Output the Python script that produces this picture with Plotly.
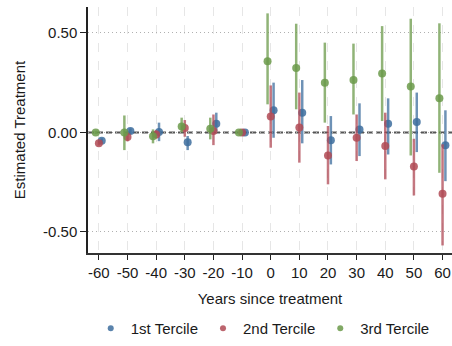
import plotly.graph_objects as go

# Event-time grid (years relative to treatment)
years = [-60, -50, -40, -30, -20, -10, 0, 10, 20, 30, 40, 50, 60]
x_tick_labels = ["-60", "-50", "-40", "-30", "-20", "-10", "0", "10", "20", "30", "40", "50", "60"]
y_tick_values = [-0.5, 0.0, 0.5]
y_tick_labels = ["-0.50", "0.00", "0.50"]

# Point estimates and 95% confidence bounds per tercile
t1_est = [-0.042, 0.007, 0.002, -0.049, 0.044, 0.0, 0.111, 0.099, -0.039, 0.015, 0.044, 0.052, -0.064]
t1_lo = [-0.055, -0.008, -0.044, -0.089, 0.007, 0.0, -0.027, -0.055, -0.161, -0.119, -0.111, -0.099, -0.245]
t1_hi = [-0.030, 0.020, 0.049, -0.018, 0.099, 0.0, 0.250, 0.263, 0.082, 0.146, 0.171, 0.200, 0.111]

t2_est = [-0.055, -0.023, -0.010, 0.022, 0.007, 0.0, 0.080, 0.025, -0.116, -0.027, -0.069, -0.172, -0.308]
t2_lo = [-0.066, -0.045, -0.030, -0.022, -0.064, 0.0, -0.077, -0.152, -0.261, -0.144, -0.236, -0.317, -0.568]
t2_hi = [-0.044, 0.000, 0.010, 0.062, 0.090, 0.0, 0.236, 0.200, 0.032, 0.090, 0.099, -0.032, -0.060]

t3_est = [0.0, 0.0, -0.020, 0.030, 0.018, 0.0, 0.358, 0.323, 0.250, 0.263, 0.296, 0.230, 0.171]
t3_lo = [-0.008, -0.089, -0.055, 0.000, -0.035, 0.0, 0.141, 0.116, 0.049, 0.090, 0.057, -0.116, -0.203]
t3_hi = [0.008, 0.085, 0.015, 0.074, 0.074, 0.0, 0.598, 0.546, 0.451, 0.446, 0.534, 0.571, 0.548]

series = [
    ("1st Tercile", t1_est, t1_lo, t1_hi, 1.0, (61, 109, 158)),
    ("2nd Tercile", t2_est, t2_lo, t2_hi, 0.0, (176, 74, 85)),
    ("3rd Tercile", t3_est, t3_lo, t3_hi, -1.1, (107, 154, 74)),
]

FONT = "Liberation Sans, Arial, sans-serif"
INK = "#1a1a1a"

W, H = 452, 346
M_TOP, M_BOT = 7, 12
PLOT_BOTTOM_PX = 253
paper_h = H - M_TOP - M_BOT
y_domain_low = (H - M_BOT - PLOT_BOTTOM_PX) / paper_h

fig = go.Figure()

for name, est, lo, hi, shift, (r, g, b) in series:
    fig.add_trace(go.Scatter(
        x=[yr + shift for yr in years],
        y=est,
        mode="markers",
        name=name,
        showlegend=False,
        marker=dict(size=8, color=f"rgba({r},{g},{b},0.85)", line=dict(width=0)),
        error_y=dict(
            type="data",
            symmetric=False,
            array=[h - e for h, e in zip(hi, est)],
            arrayminus=[e - l for e, l in zip(est, lo)],
            color=f"rgba({r},{g},{b},0.75)",
            thickness=2.5,
            width=0,
        ),
        hoverinfo="skip",
    ))

# Compact legend entries
for name, est, lo, hi, shift, (r, g, b) in series:
    fig.add_trace(go.Scatter(
        x=[None], y=[None], mode="markers", name=name,
        marker=dict(size=6, color=f"rgba({r},{g},{b},0.85)"),
    ))

# Dashed reference line at zero
fig.add_shape(
    type="line", xref="paper", yref="y", x0=0, x1=1, y0=0, y1=0,
    line=dict(color="#555555", width=2, dash="6px,3px"), layer="below",
)

fig.update_layout(
    width=W, height=H,
    margin=dict(l=88, r=0, t=M_TOP, b=M_BOT),
    paper_bgcolor="white", plot_bgcolor="white",
    font=dict(family=FONT, size=15, color=INK),
    legend=dict(
        orientation="h", x=0.48, xanchor="center",
        y=-11 / paper_h, yanchor="bottom",
        font=dict(size=15, color=INK), itemwidth=30, tracegroupgap=0,
    ),
    xaxis=dict(
        range=[-63.8, 63.3],
        tickvals=years, ticktext=x_tick_labels,
        showgrid=True, gridcolor="#e6e6e6", griddash="dash", gridwidth=1,
        zeroline=False,
        showline=True, linecolor="#333333", linewidth=1.5,
        ticks="outside", ticklen=5, tickcolor="#222222",
        title=dict(text="Years since treatment", standoff=14, font=dict(size=15)),
    ),
    yaxis=dict(
        domain=[y_domain_low, 1],
        range=[-0.606, 0.63],
        tickvals=y_tick_values, ticktext=y_tick_labels,
        showgrid=True, gridcolor="#b0b0b0", griddash="1px,3px", gridwidth=1,
        zeroline=False,
        showline=True, linecolor="#222222", linewidth=1.5,
        ticks="outside", ticklen=6, tickcolor="#222222",
        title=dict(text="Estimated Treatment", standoff=14, font=dict(size=15)),
    ),
)

fig.write_html("out.html")
